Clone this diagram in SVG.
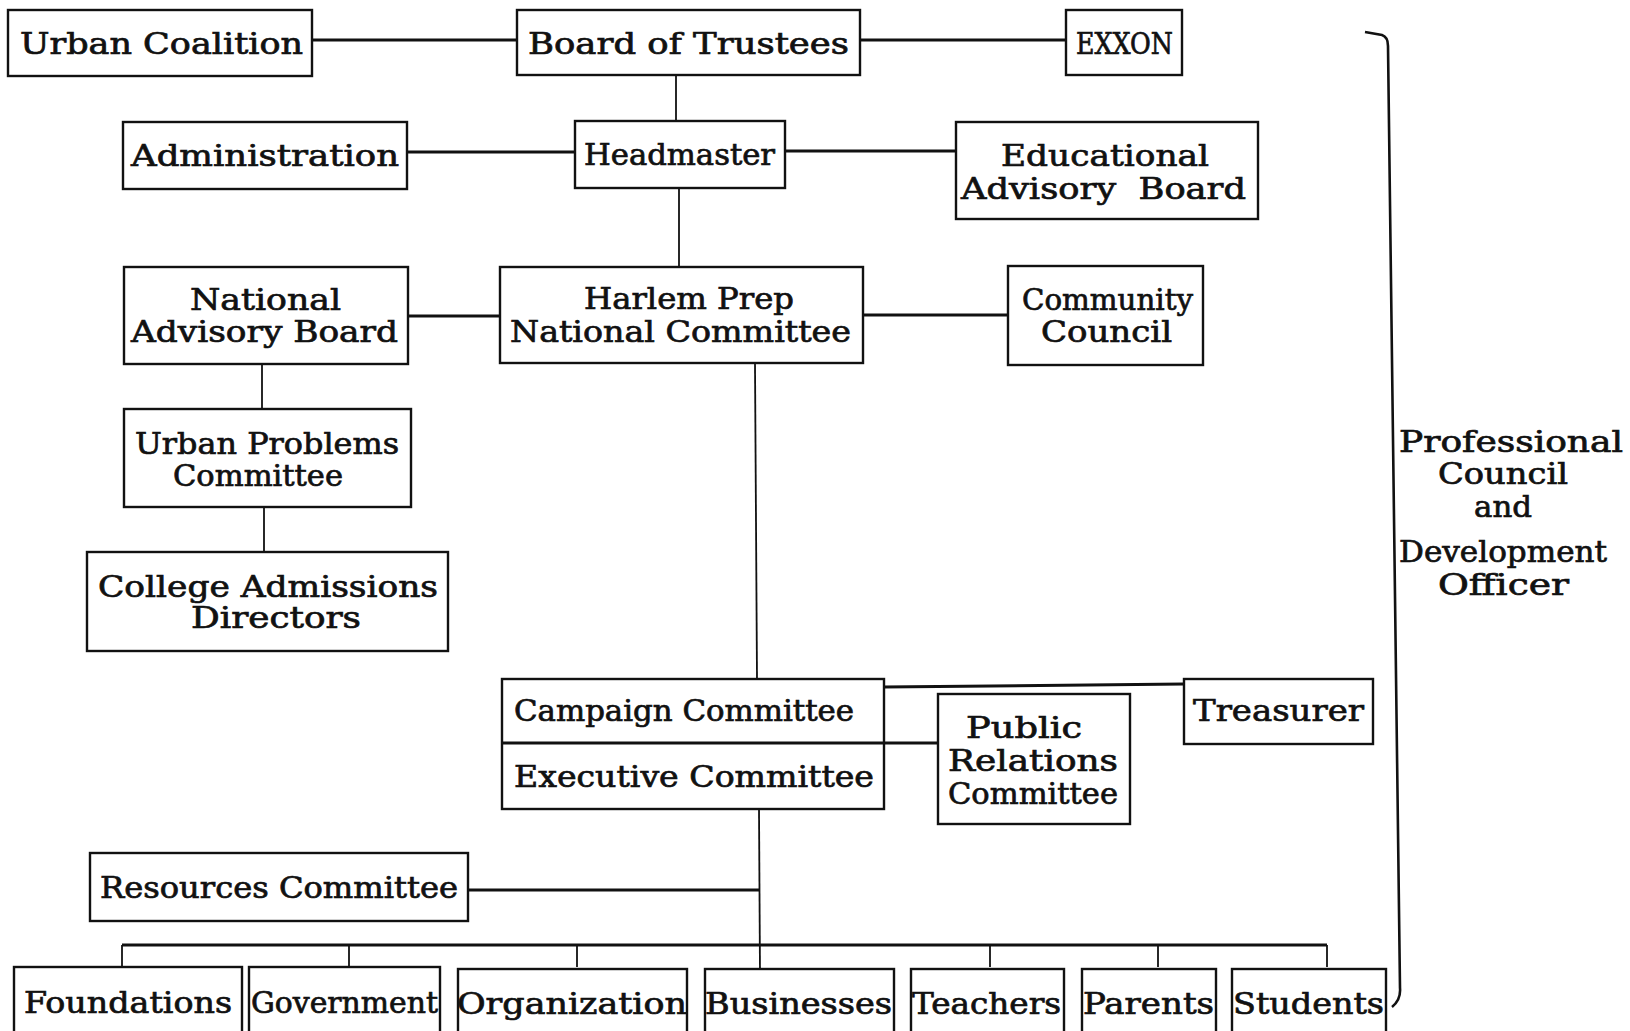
<svg xmlns="http://www.w3.org/2000/svg" width="1630" height="1031" viewBox="0 0 1630 1031">
<style>
.box{fill:#fff;stroke:#111;stroke-width:2.4}
.t{font-family:"DejaVu Serif","Liberation Serif",serif;font-size:29px;fill:#111;stroke:#111;stroke-width:0.7;white-space:pre}
.h{stroke:#111;stroke-width:3;fill:none}
.v{stroke:#111;stroke-width:1.8;fill:none}
</style>
<rect x="0" y="0" width="1630" height="1031" fill="#fff"/>
<g id="connectors">
<line class="h" x1="312" y1="40" x2="517" y2="40"/>
<line class="h" x1="860" y1="40" x2="1066" y2="40"/>
<line class="v" x1="676" y1="75" x2="676" y2="121"/>
<line class="h" x1="407" y1="152" x2="575" y2="152"/>
<line class="h" x1="785" y1="151" x2="956" y2="151"/>
<line class="v" x1="679" y1="188" x2="679" y2="267"/>
<line class="h" x1="408" y1="316" x2="500" y2="316"/>
<line class="h" x1="863" y1="315" x2="1008" y2="315"/>
<line class="v" x1="262" y1="364" x2="262" y2="409"/>
<line class="v" x1="264" y1="507" x2="264" y2="552"/>
<line class="v" x1="755" y1="364" x2="757" y2="679"/>
<line class="h" x1="884" y1="687" x2="1184" y2="684"/>
<line class="h" x1="884" y1="743" x2="938" y2="743"/>
<line class="v" x1="759" y1="809" x2="760" y2="975"/>
<line class="h" x1="468" y1="890" x2="760" y2="890"/>
<line class="h" x1="122" y1="945" x2="1327" y2="945"/>
<line class="v" x1="122" y1="945" x2="122" y2="967"/>
<line class="v" x1="349" y1="945" x2="349" y2="967"/>
<line class="v" x1="577" y1="945" x2="577" y2="967"/>
<line class="v" x1="990" y1="945" x2="990" y2="967"/>
<line class="v" x1="1158" y1="945" x2="1158" y2="967"/>
<line class="v" x1="1327" y1="945" x2="1327" y2="967"/>
<path d="M1365 32 L1382 35 Q1388 37 1388 46 L1400 988 Q1401 1000 1392 1007" style="stroke:#111;stroke-width:2.6;fill:none"/>
</g>
<g id="urban-coalition"><rect class="box" x="8" y="10" width="304" height="66"/><text class="t" x="20" y="54" textLength="283" lengthAdjust="spacingAndGlyphs">Urban Coalition</text></g>
<g id="board-of-trustees"><rect class="box" x="517" y="10" width="343" height="65"/><text class="t" x="528" y="54" textLength="321" lengthAdjust="spacingAndGlyphs">Board of Trustees</text></g>
<g id="exxon"><rect class="box" x="1066" y="10" width="116" height="65"/><text class="t" x="1076" y="54" textLength="97" lengthAdjust="spacingAndGlyphs">EXXON</text></g>
<g id="administration"><rect class="box" x="123" y="122" width="284" height="67"/><text class="t" x="131" y="166" textLength="268" lengthAdjust="spacingAndGlyphs">Administration</text></g>
<g id="headmaster"><rect class="box" x="575" y="121" width="210" height="67"/><text class="t" x="584" y="165" textLength="191" lengthAdjust="spacingAndGlyphs">Headmaster</text></g>
<g id="educational-advisory-board"><rect class="box" x="956" y="122" width="302" height="97"/><text class="t" x="1001" y="166" textLength="208" lengthAdjust="spacingAndGlyphs">Educational</text><text class="t" x="961" y="199" textLength="285" lengthAdjust="spacingAndGlyphs">Advisory  Board</text></g>
<g id="national-advisory-board"><rect class="box" x="124" y="267" width="284" height="97"/><text class="t" x="190" y="310" textLength="151" lengthAdjust="spacingAndGlyphs">National</text><text class="t" x="131" y="342" textLength="267" lengthAdjust="spacingAndGlyphs">Advisory Board</text></g>
<g id="harlem-prep-national-committee"><rect class="box" x="500" y="267" width="363" height="96"/><text class="t" x="584" y="309" textLength="210" lengthAdjust="spacingAndGlyphs">Harlem Prep</text><text class="t" x="510" y="342" textLength="341" lengthAdjust="spacingAndGlyphs">National Committee</text></g>
<g id="community-council"><rect class="box" x="1008" y="266" width="195" height="99"/><text class="t" x="1022" y="310" textLength="171" lengthAdjust="spacingAndGlyphs">Community</text><text class="t" x="1041" y="342" textLength="131" lengthAdjust="spacingAndGlyphs">Council</text></g>
<g id="urban-problems-committee"><rect class="box" x="124" y="409" width="287" height="98"/><text class="t" x="135" y="454" textLength="264" lengthAdjust="spacingAndGlyphs">Urban Problems</text><text class="t" x="173" y="486" textLength="170" lengthAdjust="spacingAndGlyphs">Committee</text></g>
<g id="college-admissions-directors"><rect class="box" x="87" y="552" width="361" height="99"/><text class="t" x="98" y="597" textLength="340" lengthAdjust="spacingAndGlyphs">College Admissions</text><text class="t" x="191" y="628" textLength="170" lengthAdjust="spacingAndGlyphs">Directors</text></g>
<g id="campaign-executive-committee"><rect class="box" x="502" y="679" width="382" height="130"/><line class="h" x1="502" y1="743" x2="884" y2="743"/><text class="t" x="514" y="721" textLength="340" lengthAdjust="spacingAndGlyphs">Campaign Committee</text><text class="t" x="514" y="787" textLength="360" lengthAdjust="spacingAndGlyphs">Executive Committee</text></g>
<g id="public-relations-committee"><rect class="box" x="938" y="694" width="192" height="130"/><text class="t" x="966" y="738" textLength="116" lengthAdjust="spacingAndGlyphs">Public</text><text class="t" x="948" y="771" textLength="170" lengthAdjust="spacingAndGlyphs">Relations</text><text class="t" x="948" y="804" textLength="170" lengthAdjust="spacingAndGlyphs">Committee</text></g>
<g id="treasurer"><rect class="box" x="1184" y="679" width="189" height="65"/><text class="t" x="1193" y="721" textLength="171" lengthAdjust="spacingAndGlyphs">Treasurer</text></g>
<g id="resources-committee"><rect class="box" x="90" y="853" width="378" height="68"/><text class="t" x="100" y="898" textLength="358" lengthAdjust="spacingAndGlyphs">Resources Committee</text></g>
<g id="foundations"><rect class="box" x="14" y="967" width="228" height="90"/><text class="t" x="24" y="1013" textLength="208" lengthAdjust="spacingAndGlyphs">Foundations</text></g>
<g id="government"><rect class="box" x="249" y="967" width="191" height="90"/><text class="t" x="251" y="1013" textLength="187" lengthAdjust="spacingAndGlyphs">Government</text></g>
<g id="organization"><rect class="box" x="458" y="969" width="229" height="90"/><text class="t" x="457" y="1014" textLength="230" lengthAdjust="spacingAndGlyphs">Organization</text></g>
<g id="businesses"><rect class="box" x="705" y="969" width="189" height="90"/><text class="t" x="705" y="1014" textLength="187" lengthAdjust="spacingAndGlyphs">Businesses</text></g>
<g id="teachers"><rect class="box" x="911" y="969" width="153" height="90"/><text class="t" x="912" y="1014" textLength="149" lengthAdjust="spacingAndGlyphs">Teachers</text></g>
<g id="parents"><rect class="box" x="1082" y="969" width="134" height="90"/><text class="t" x="1083" y="1014" textLength="131" lengthAdjust="spacingAndGlyphs">Parents</text></g>
<g id="students"><rect class="box" x="1232" y="969" width="154" height="90"/><text class="t" x="1233" y="1014" textLength="151" lengthAdjust="spacingAndGlyphs">Students</text></g>
<g id="professional-council">
<text class="t" x="1399" y="452" textLength="224" lengthAdjust="spacingAndGlyphs">Professional</text>
<text class="t" x="1438" y="484" textLength="130" lengthAdjust="spacingAndGlyphs">Council</text>
<text class="t" x="1474" y="517" textLength="58" lengthAdjust="spacingAndGlyphs">and</text>
<text class="t" x="1399" y="562" textLength="208" lengthAdjust="spacingAndGlyphs">Development</text>
<text class="t" x="1438" y="595" textLength="131" lengthAdjust="spacingAndGlyphs">Officer</text>
</g>
</svg>
